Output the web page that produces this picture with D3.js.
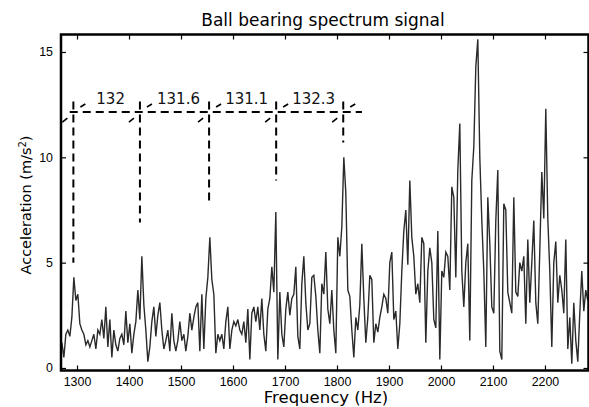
<!DOCTYPE html>
<html>
<head>
<meta charset="utf-8">
<script src="https://cdn.jsdelivr.net/npm/d3@7"></script>
<style>
	html, body { margin: 0; padding: 0; background: #fff; }
	svg { display: block; font-family: "DejaVu Sans", sans-serif; }
	.tick line { stroke: #000; stroke-width: 1.2; }
	.tick text { font-size: 12.4px; fill: #000; }
</style>
</head>
<body>
<svg id="chart" width="589" height="407"></svg>
<script>
//Spectrum bins (Hz)
var freqStart = 1267,
	freqStep = 3.846;

//Acceleration per bin (m/s2)
var amplitude = [
	0.6, 1.2, 0.5, 1.6, 1.8, 1.5, 2.4, 4.3, 3.2, 3.5,
	2.1, 1.8, 1.6, 1.1, 1.3, 1.0, 1.3, 1.6, 0.9, 1.8,
	1.6, 2.3, 1.4, 2.9, 1.0, 2.3, 0.5, 1.8, 1.1, 0.8,
	1.4, 1.6, 1.1, 2.7, 1.2, 2.1, 0.7, 1.6, 2.2, 3.7,
	2.3, 5.3, 3.0, 1.8, 0.3, 1.0, 2.2, 2.9, 1.5, 2.5,
	3.1, 1.8, 0.9, 1.3, 1.8, 0.8, 2.6, 1.3, 0.8, 1.3,
	2.2, 1.3, 1.6, 0.8, 1.5, 2.6, 1.8, 2.4, 2.9, 3.1,
	0.8, 3.5, 0.9, 3.3, 4.3, 6.2, 4.2, 3.5, 0.7, 1.6,
	1.3, 1.6, 0.9, 2.2, 2.9, 0.9, 1.8, 2.2, 2.0, 2.3,
	1.8, 1.6, 2.2, 1.2, 2.8, 0.4, 2.6, 2.9, 2.2, 2.9,
	1.8, 3.3, 1.6, 0.8, 2.8, 3.3, 4.8, 3.6, 7.4, 0.4,
	3.6, 1.6, 1.0, 2.8, 3.6, 2.5, 3.3, 3.5, 4.8, 1.5,
	0.9, 4.0, 5.3, 3.1, 1.8, 2.1, 4.3, 4.4, 3.4, 1.8,
	0.7, 4.0, 3.5, 5.5, 2.8, 2.1, 3.7, 1.8, 0.7, 6.2,
	5.3, 6.7, 10.0, 8.3, 3.7, 3.4, 1.8, 0.5, 2.4, 1.8,
	3.0, 5.9, 3.3, 1.2, 2.4, 4.4, 4.2, 1.2, 2.1, 1.7,
	2.4, 2.9, 3.5, 3.3, 2.6, 5.0, 5.5, 2.3, 2.7, 0.9,
	2.1, 4.6, 6.5, 7.5, 4.9, 8.9, 6.2, 5.3, 3.5, 4.0,
	3.1, 6.2, 5.9, 1.2, 4.6, 5.7, 5.0, 2.3, 1.9, 6.5,
	0.4, 4.6, 4.3, 5.5, 5.3, 3.7, 8.6, 8.1, 4.3, 9.4,
	11.6, 4.6, 2.9, 5.0, 5.9, 1.3, 8.9, 10.5, 14.3, 15.6,
	10.0, 7.0, 4.6, 1.0, 8.1, 5.9, 2.9, 2.6, 7.0, 9.4,
	0.8, 0.4, 7.8, 7.5, 3.6, 3.1, 2.6, 8.1, 3.6, 3.4,
	5.0, 4.6, 5.3, 2.1, 6.1, 3.1, 5.0, 7.0, 3.1, 2.1,
	5.6, 9.3, 7.1, 12.3, 7.1, 4.6, 1.0, 5.0, 6.0, 3.1,
	4.4, 3.7, 2.6, 6.1, 0.9, 2.4, 0.2, 3.1, 1.3, 0.3,
	2.6, 4.6, 2.7, 3.7, 3.2
];

var xTicks = [1300, 1400, 1500, 1600, 1700, 1800, 1900, 2000, 2100, 2200];
var yTicks = [0, 5, 10, 15];

//Harmonic markers
var markerFreqs = [1293, 1421, 1554, 1683, 1812];
var markerEnds = [5.0, 6.9, 7.8, 8.9, 10.7];
var spacingLabels = ["132", "131.6", "131.1", "132.3"];
var markerLevel = 12.15,
	markerTop = 12.65,
	markerLineFrom = 1286,
	markerLineTo = 1848;

var svg = d3.select("#chart");

//Plot box in pixels
var box = {left: 61, top: 34.5, right: 588.5, bottom: 370.5};

var x = d3.scaleLinear()
	.domain([1269.2, 2283.7])
	.range([box.left, box.right]);

var y = d3.scaleLinear()
	.domain([-0.12, 15.83])
	.range([box.bottom, box.top]);

svg.append("rect")
	.attr("width", 589)
	.attr("height", 407)
	.attr("fill", "#fff");

svg.append("clipPath")
	.attr("id", "plot-clip")
	.append("rect")
	.attr("x", box.left)
	.attr("y", box.top)
	.attr("width", box.right - box.left)
	.attr("height", box.bottom - box.top);

//Spectrum line
var line = d3.line()
	.x(function(d, i){ return x(freqStart + i * freqStep); })
	.y(function(d){ return y(d); });

svg.append("path")
	.datum(amplitude)
	.attr("clip-path", "url(#plot-clip)")
	.attr("fill", "none")
	.attr("stroke", "#2a2a2a")
	.attr("stroke-width", 1.4)
	.attr("stroke-linejoin", "miter")
	.attr("d", line);

//Axes, ticks pointing inward
svg.append("g")
	.attr("transform", "translate(0," + box.bottom + ")")
	.call(d3.axisBottom(x).tickValues(xTicks).tickSizeInner(-5).tickSizeOuter(0).tickPadding(6.5).tickFormat(d3.format("d")));

svg.append("g")
	.attr("transform", "translate(0," + box.top + ")")
	.call(d3.axisTop(x).tickValues(xTicks).tickSizeInner(-5).tickSizeOuter(0).tickFormat(""));

svg.append("g")
	.attr("transform", "translate(" + box.left + ",0)")
	.call(d3.axisLeft(y).tickValues(yTicks).tickSizeInner(-5).tickSizeOuter(0).tickPadding(8).tickFormat(d3.format("d")));

svg.append("g")
	.attr("transform", "translate(" + box.right + ",0)")
	.call(d3.axisRight(y).tickValues(yTicks).tickSizeInner(-5).tickSizeOuter(0).tickFormat(""));

svg.selectAll(".domain").remove();
svg.selectAll(".tick text").attr("font-family", null).attr("font-size", null);

//Frame
svg.append("rect")
	.attr("x", box.left)
	.attr("y", box.top)
	.attr("width", box.right - box.left)
	.attr("height", box.bottom - box.top)
	.attr("fill", "none")
	.attr("stroke", "#000")
	.attr("stroke-width", 2.5);

//Marker lines
var markers = svg.append("g")
	.attr("stroke", "#000")
	.attr("stroke-width", 2)
	.attr("fill", "none");

markers.append("line")
	.attr("x1", x(markerLineFrom))
	.attr("x2", x(markerLineTo))
	.attr("y1", y(markerLevel))
	.attr("y2", y(markerLevel))
	.attr("stroke-dasharray", "8,5");

markerFreqs.forEach(function(f, i){
	var cx = x(f), cy = y(markerLevel);

	markers.append("line")
		.attr("x1", cx)
		.attr("x2", cx)
		.attr("y1", y(markerTop))
		.attr("y2", y(markerEnds[i]))
		.attr("stroke-dasharray", "8,5");

	//Small slanted ticks
	markers.append("line")
		.attr("stroke-width", 1.6)
		.attr("x1", cx - 11).attr("y1", cy + 10)
		.attr("x2", cx - 6).attr("y2", cy + 6);

	markers.append("line")
		.attr("stroke-width", 1.6)
		.attr("x1", cx + 7).attr("y1", cy - 5)
		.attr("x2", cx + 12).attr("y2", cy - 8);
});

spacingLabels.forEach(function(lbl, i){
	var mid = (x(markerFreqs[i]) + x(markerFreqs[i + 1])) / 2;
	svg.append("text")
		.attr("x", mid + 4)
		.attr("y", y(markerLevel) - 8)
		.attr("text-anchor", "middle")
		.attr("font-size", 15)
		.attr("fill", "#111")
		.text(lbl);
});

//Titles
svg.append("text")
	.attr("x", 323)
	.attr("y", 26)
	.attr("text-anchor", "middle")
	.attr("font-size", 17)
	.text("Ball bearing spectrum signal");

svg.append("text")
	.attr("x", 326)
	.attr("y", 403)
	.attr("text-anchor", "middle")
	.attr("font-size", 16.5)
	.text("Frequency (Hz)");

svg.append("text")
	.attr("transform", "translate(31,205) rotate(-90)")
	.attr("text-anchor", "middle")
	.attr("font-size", 14.5)
	.html("Acceleration (m/s<tspan dy='-5' font-size='10'>2</tspan><tspan dy='5'>)</tspan>");
</script>
</body>
</html>
